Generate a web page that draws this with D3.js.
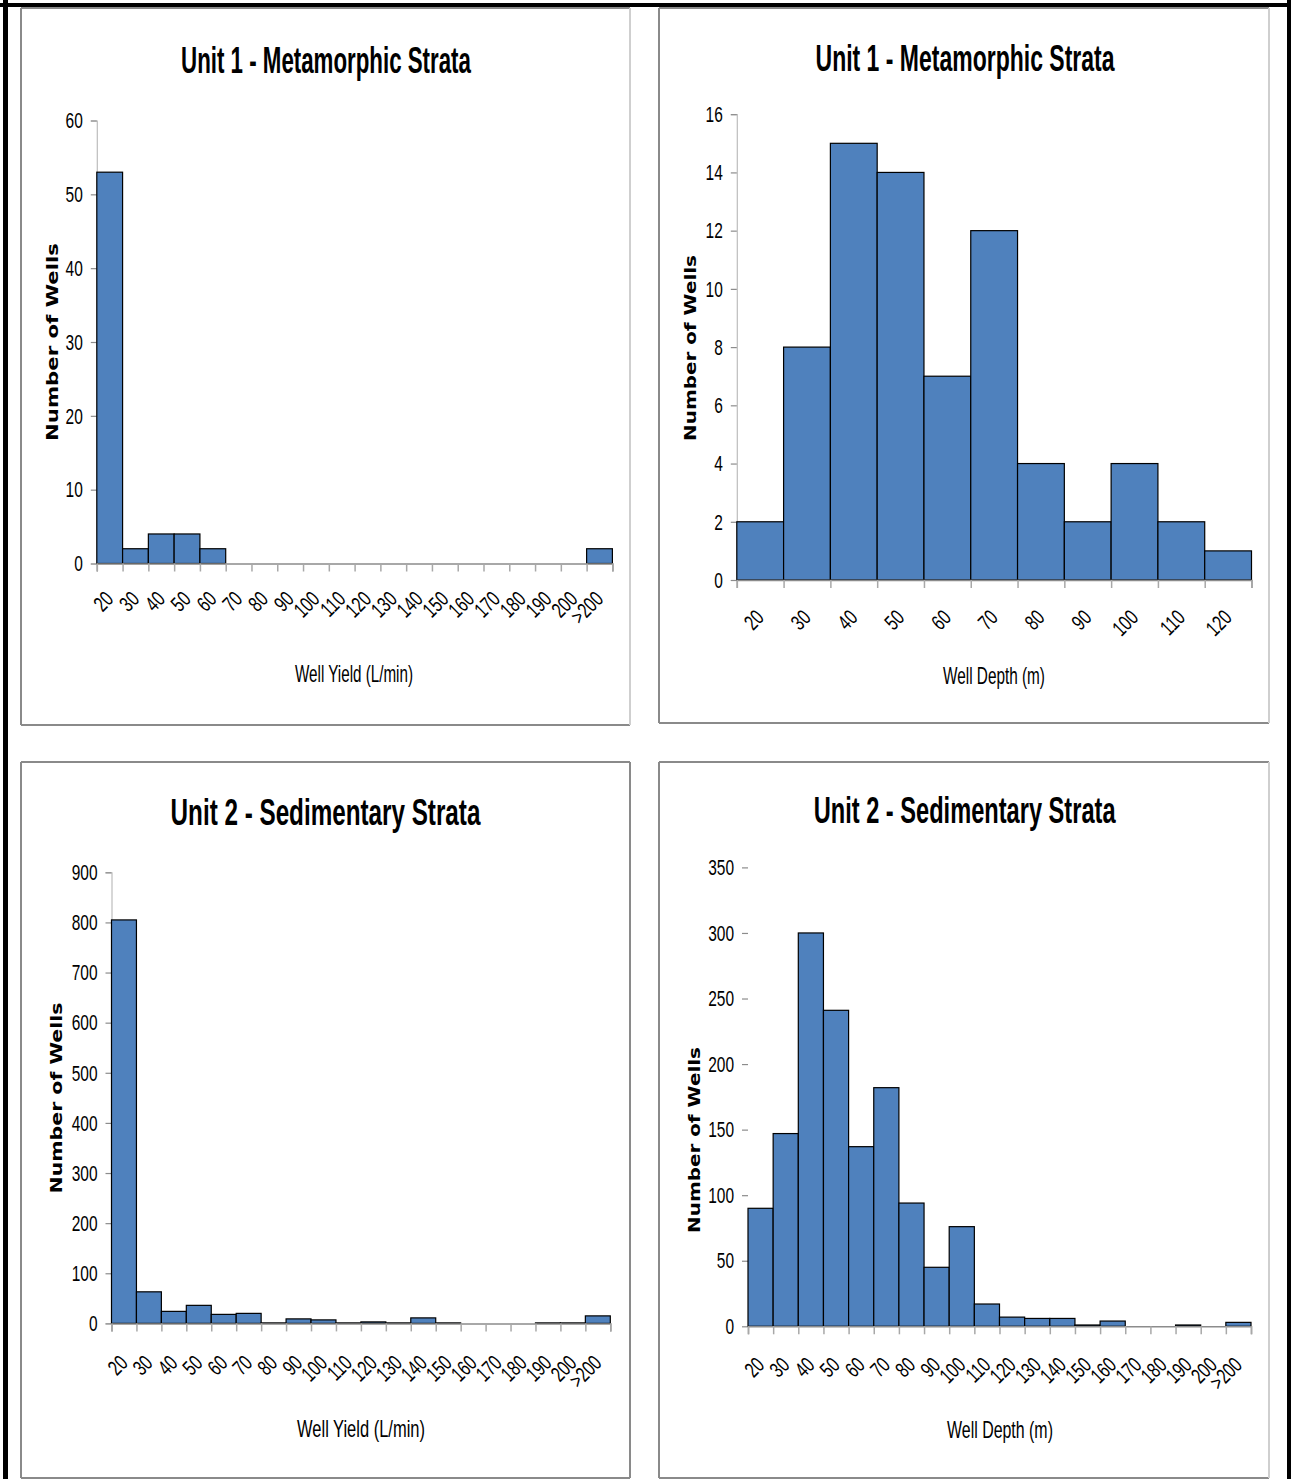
<!DOCTYPE html>
<html>
<head>
<meta charset="utf-8">
<script src="https://cdn.jsdelivr.net/npm/d3@7"></script>
<style>
  html, body { margin: 0; padding: 0; background: #ffffff; }
  svg { display: block; }
</style>
</head>
<body>
<svg id="chart" width="1291" height="1479"></svg>
<script>
// ---------------- DATA ----------------
const yieldCategories = ["20","30","40","50","60","70","80","90","100","110","120","130","140","150","160","170","180","190","200",">200"];
const depthCategoriesUnit1 = ["20","30","40","50","60","70","80","90","100","110","120"];
const depthCategoriesUnit2 = ["20","30","40","50","60","70","80","90","100","110","120","130","140","150","160","170","180","190","200",">200"];

const unit1YieldCounts = [53, 2, 4, 4, 2, 0, 0, 0, 0, 0, 0, 0, 0, 0, 0, 0, 0, 0, 0, 2];
const unit1DepthCounts = [2, 8, 15, 14, 7, 12, 4, 2, 4, 2, 1];
const unit2YieldCounts = [805, 63, 24, 36, 18, 20, 1, 9, 7, 1, 3, 1, 11, 1, 0, 0, 0, 1, 1, 15];
const unit2DepthCounts = [90, 147, 300, 241, 137, 182, 94, 45, 76, 17, 7, 6, 6, 1, 4, 0, 0, 1, 0, 3];

const unit1YieldTicks = [0, 10, 20, 30, 40, 50, 60];
const unit1DepthTicks = [0, 2, 4, 6, 8, 10, 12, 14, 16];
const unit2YieldTicks = [0, 100, 200, 300, 400, 500, 600, 700, 800, 900];
const unit2DepthTicks = [0, 50, 100, 150, 200, 250, 300, 350];

const titleUnit1 = "Unit 1 - Metamorphic Strata";
const titleUnit2 = "Unit 2 - Sedimentary Strata";
const xLabelYield = "Well Yield (L/min)";
const xLabelDepth = "Well Depth (m)";
const yLabel = "Number of Wells";

// ---------------- STYLE / LAYOUT ----------------
const SANS = "'Liberation Sans', Arial, sans-serif";
const WIDE = "'DejaVu Sans', Verdana, sans-serif";
const BAR_FILL = "#4f81bd";
const AXIS_GRAY = "#8c8c8c";
const TICK_SX = 0.72;
const TICK_SIZE = 21.5;

const panels = [
  { frame: [21, 8, 630, 725], title: titleUnit1, titleX: 326, titleY: 73, titleLen: 290,
    left: 96.8, right: 612.4, top: 120.5, bottom: 563.5,
    cats: yieldCategories, vals: unit1YieldCounts, ticks: unit1YieldTicks,
    yAxisLine: true, tickDY: 37,
    xLabel: xLabelYield, xLabelX: 354, xLabelY: 682, xLabelLen: 118,
    yLabelX: 52, yLabelY: 342, yLabelLen: 198, rightLight: true },
  { frame: [659, 8, 1269, 723], title: titleUnit1, titleX: 965, titleY: 71, titleLen: 299,
    left: 736.8, right: 1251.5, top: 114.2, bottom: 580,
    cats: depthCategoriesUnit1, vals: unit1DepthCounts, ticks: unit1DepthTicks,
    yAxisLine: true, tickDY: 39,
    xLabel: xLabelDepth, xLabelX: 994, xLabelY: 684, xLabelLen: 102,
    yLabelX: 690, yLabelY: 348, yLabelLen: 186, rightLight: true },
  { frame: [21, 762, 630, 1478], title: titleUnit2, titleX: 325.5, titleY: 825, titleLen: 310,
    left: 111.5, right: 610.3, top: 872.3, bottom: 1323.4,
    cats: yieldCategories, vals: unit2YieldCounts, ticks: unit2YieldTicks,
    yAxisLine: true, tickDY: 41,
    xLabel: xLabelYield, xLabelX: 361, xLabelY: 1437, xLabelLen: 128,
    yLabelX: 56, yLabelY: 1098, yLabelLen: 191, rightLight: false },
  { frame: [659, 762, 1269, 1478], title: titleUnit2, titleX: 964.6, titleY: 823, titleLen: 302,
    left: 748, right: 1251, top: 867.4, bottom: 1326.3,
    cats: depthCategoriesUnit2, vals: unit2DepthCounts, ticks: unit2DepthTicks,
    yAxisLine: false, tickDY: 40,
    xLabel: xLabelDepth, xLabelX: 1000, xLabelY: 1438, xLabelLen: 106,
    yLabelX: 694, yLabelY: 1140, yLabelLen: 186, rightLight: true }
];

const svg = d3.select("#chart");
svg.append("rect").attr("width", 1291).attr("height", 1479).attr("fill", "#fff");

// page frame (black)
svg.append("rect").attr("x", 0).attr("y", 3).attr("width", 1291).attr("height", 4).attr("fill", "#000");
svg.append("rect").attr("x", 3).attr("y", 0).attr("width", 5).attr("height", 1479).attr("fill", "#000");
svg.append("rect").attr("x", 1287).attr("y", 0).attr("width", 4).attr("height", 1479).attr("fill", "#000");

// text fitted to a target width by horizontal scaling
function fitText(parent, o) {
  const t = parent.append("text")
    .attr("text-anchor", "middle")
    .attr("font-family", o.family).attr("font-weight", o.weight || "normal")
    .attr("font-size", o.size).attr("fill", "#000")
    .text(o.text);
  const len = t.node().getComputedTextLength();
  const sx = len > 0 ? o.width / len : 1;
  t.attr("transform", `translate(${o.x},${o.y}) rotate(${o.rotate || 0}) scale(${sx},1)`);
  return t;
}

panels.forEach(p => {
  const g = svg.append("g");
  const [fx0, fy0, fx1, fy1] = p.frame;

  // panel border
  const borderLines = [
    [fx0, fy0, fx1, fy0, "#8a8a8a"],
    [fx0, fy0, fx0, fy1, "#8a8a8a"],
    [fx0, fy1, fx1, fy1, "#8a8a8a"],
    [fx1, fy0, fx1, fy1, p.rightLight ? "#cfcfcf" : "#8a8a8a"]
  ];
  g.selectAll("line.border").data(borderLines).join("line")
    .attr("class", "border")
    .attr("x1", d => d[0]).attr("y1", d => d[1]).attr("x2", d => d[2]).attr("y2", d => d[3])
    .attr("stroke", d => d[4]).attr("stroke-width", 2);

  // scales
  const x = d3.scaleBand().domain(p.cats).range([p.left, p.right]).padding(0);
  const y = d3.scaleLinear().domain([0, d3.max(p.ticks)]).range([p.bottom, p.top]);
  const xEdge = d3.scaleLinear().domain([0, p.cats.length]).range([p.left, p.right]);

  // title
  fitText(g, { x: p.titleX, y: p.titleY, text: p.title, size: 37, weight: "bold",
               family: SANS, width: p.titleLen });

  // y axis
  const yAxis = d3.axisLeft(y).tickValues(p.ticks).tickSize(6).tickFormat("");
  const yg = g.append("g").attr("transform", `translate(${p.left},0)`).call(yAxis);
  yg.select(".domain").attr("stroke", p.yAxisLine ? "#bdbdbd" : "none").attr("stroke-width", 1.2);
  yg.selectAll(".tick line").attr("stroke", AXIS_GRAY).attr("stroke-width", 1.2);

  // y tick labels
  g.selectAll("text.ylab").data(p.ticks).join("text")
    .attr("class", "ylab")
    .attr("transform", d => `translate(${p.left - 14},${y(d)}) scale(${TICK_SX},1)`)
    .attr("dy", "0.36em")
    .attr("text-anchor", "end")
    .attr("font-family", SANS).attr("font-size", TICK_SIZE).attr("fill", "#000")
    .text(d => d3.format("d")(d));

  // bars
  g.selectAll("rect.bar").data(p.vals).join("rect")
    .attr("class", "bar")
    .attr("x", (d, i) => x(p.cats[i]))
    .attr("y", d => y(d))
    .attr("width", x.bandwidth())
    .attr("height", d => y(0) - y(d))
    .attr("fill", BAR_FILL)
    .attr("stroke", "#000")
    .attr("stroke-width", 1.2);

  // x axis (tick marks at bin edges)
  const xAxis = d3.axisBottom(xEdge).tickValues(d3.range(p.cats.length + 1)).tickSize(8).tickFormat("");
  const xg = g.append("g").attr("transform", `translate(0,${p.bottom})`).call(xAxis);
  xg.select(".domain").attr("stroke", AXIS_GRAY).attr("stroke-width", 1.5);
  xg.selectAll(".tick line").attr("stroke", "#a8a8a8").attr("stroke-width", 1.5);

  // x tick labels (rotated)
  g.selectAll("text.xlab").data(p.cats).join("text")
    .attr("class", "xlab")
    .attr("transform", d => `translate(${x(d) + x.bandwidth() / 2 + 5},${p.bottom + p.tickDY}) rotate(-45) scale(${TICK_SX},1)`)
    .attr("text-anchor", "end")
    .attr("font-family", SANS).attr("font-size", TICK_SIZE).attr("fill", "#000")
    .text(d => d);

  // x axis title
  fitText(g, { x: p.xLabelX, y: p.xLabelY, text: p.xLabel, size: 23,
               family: SANS, width: p.xLabelLen });

  // y axis title
  fitText(g, { x: p.yLabelX + 6, y: p.yLabelY, text: yLabel, size: 16, weight: "bold",
               family: WIDE, width: p.yLabelLen, rotate: -90 });
});
</script>
</body>
</html>
